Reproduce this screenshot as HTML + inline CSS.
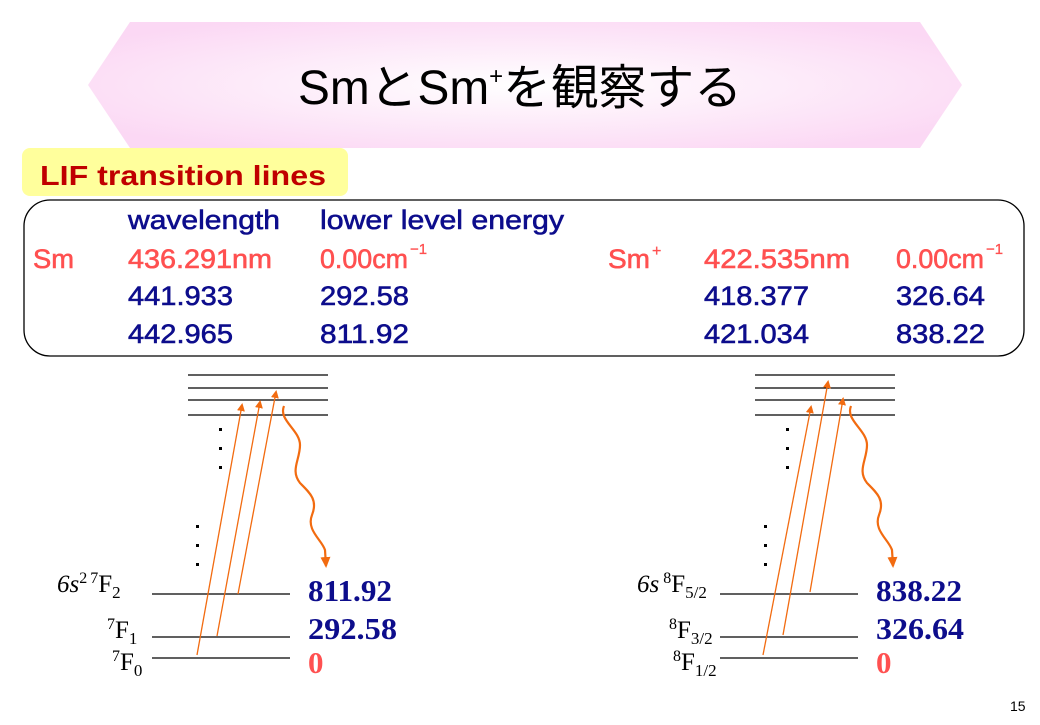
<!DOCTYPE html>
<html><head><meta charset="utf-8"><style>
body{margin:0;width:1040px;height:720px;background:#fff;overflow:hidden;font-family:"Liberation Sans","Noto Sans CJK JP",sans-serif}
</style></head><body>
<svg width="1040" height="720" xmlns="http://www.w3.org/2000/svg">
<defs>
<radialGradient id="g" cx="50%" cy="50%" r="60%"><stop offset="0" stop-color="#fff"/><stop offset="1" stop-color="#fbd8f4"/></radialGradient>
<marker id="ah" markerWidth="8" markerHeight="8" refX="6" refY="4" orient="auto" markerUnits="userSpaceOnUse"><path d="M0,0 L8,4 L0,8 z" fill="#f26b10"/></marker>
<marker id="ah2" markerWidth="12" markerHeight="12" refX="9" refY="6" orient="auto" markerUnits="userSpaceOnUse"><path d="M0,1 L11,6 L0,11 z" fill="#f26b10"/></marker>
</defs>
<polygon points="88,85 130,22 920,22 962,85 920,148 130,148" fill="url(#g)"/>
<text x="298" y="104" font-size="48" textLength="444" lengthAdjust="spacingAndGlyphs" font-family="'Liberation Sans','Noto Sans CJK JP',sans-serif" fill="#000">SmとSm<tspan font-size="24" dy="-20">+</tspan><tspan dy="20">を観察する</tspan></text>
<rect x="22" y="148" width="326" height="48" rx="8" fill="#ffff9c"/>
<text x="40" y="185" font-size="28" font-weight="bold" fill="#c00000" textLength="286" lengthAdjust="spacingAndGlyphs">LIF transition lines</text>
<rect x="24" y="200" width="1000" height="156" rx="26" fill="none" stroke="#000" stroke-width="1.3"/>
<g font-size="27" fill="#0d0d8c" stroke="#0d0d8c" stroke-width="0.6">
<text x="128" y="229" textLength="152" lengthAdjust="spacingAndGlyphs">wavelength</text>
<text x="320" y="229" textLength="244" lengthAdjust="spacingAndGlyphs">lower level energy</text>
<g fill="#ff5050" stroke="#ff5050">
<text x="33" y="268" textLength="41" lengthAdjust="spacingAndGlyphs">Sm</text>
<text x="128" y="268" textLength="144" lengthAdjust="spacingAndGlyphs">436.291nm</text>
<text x="320" y="268" textLength="88" lengthAdjust="spacingAndGlyphs">0.00cm</text><text x="410" y="254" font-size="15" stroke-width="0.3">−1</text>
<text x="608" y="268" textLength="42" lengthAdjust="spacingAndGlyphs">Sm</text><text x="652" y="256" font-size="16" stroke-width="0.3">+</text>
<text x="704" y="268" textLength="146" lengthAdjust="spacingAndGlyphs">422.535nm</text>
<text x="896" y="268" textLength="88" lengthAdjust="spacingAndGlyphs">0.00cm</text><text x="986" y="254" font-size="15" stroke-width="0.3">−1</text>
</g>
<text x="128" y="305" textLength="105" lengthAdjust="spacingAndGlyphs">441.933</text>
<text x="320" y="305" textLength="89" lengthAdjust="spacingAndGlyphs">292.58</text>
<text x="704" y="305" textLength="105" lengthAdjust="spacingAndGlyphs">418.377</text>
<text x="896" y="305" textLength="89" lengthAdjust="spacingAndGlyphs">326.64</text>
<text x="128" y="343" textLength="105" lengthAdjust="spacingAndGlyphs">442.965</text>
<text x="320" y="343" textLength="89" lengthAdjust="spacingAndGlyphs">811.92</text>
<text x="704" y="343" textLength="105" lengthAdjust="spacingAndGlyphs">421.034</text>
<text x="896" y="343" textLength="89" lengthAdjust="spacingAndGlyphs">838.22</text>
</g>
<g stroke="#000" stroke-width="1.2">
<line x1="188" y1="375" x2="328" y2="375"/><line x1="188" y1="388" x2="328" y2="388"/><line x1="188" y1="400" x2="328" y2="400"/><line x1="188" y1="415" x2="328" y2="415"/>
<line x1="152" y1="594" x2="290" y2="594"/><line x1="152" y1="637" x2="290" y2="637"/><line x1="152" y1="658" x2="290" y2="658"/>
<line x1="755" y1="375" x2="895" y2="375"/><line x1="755" y1="388" x2="895" y2="388"/><line x1="755" y1="400" x2="895" y2="400"/><line x1="755" y1="415" x2="895" y2="415"/>
<line x1="720" y1="594" x2="858" y2="594"/><line x1="720" y1="637" x2="858" y2="637"/><line x1="720" y1="658" x2="858" y2="658"/>
</g>
<g fill="#000">
<rect x="219" y="428" width="3" height="3"/><rect x="219" y="447" width="3" height="3"/><rect x="219" y="466" width="3" height="3"/>
<rect x="196" y="525" width="3" height="3"/><rect x="196" y="544" width="3" height="3"/><rect x="196" y="563" width="3" height="3"/>
<rect x="786" y="428" width="3" height="3"/><rect x="786" y="447" width="3" height="3"/><rect x="786" y="466" width="3" height="3"/>
<rect x="764" y="525" width="3" height="3"/><rect x="764" y="544" width="3" height="3"/><rect x="764" y="563" width="3" height="3"/>
</g>
<g stroke="#f26b10" stroke-width="1.3" fill="none">
<line x1="197" y1="655" x2="242" y2="405" marker-end="url(#ah)"/>
<line x1="217" y1="636" x2="260" y2="402" marker-end="url(#ah)"/>
<line x1="238" y1="594" x2="276" y2="392" marker-end="url(#ah)"/>
<line x1="763" y1="655" x2="811" y2="407" marker-end="url(#ah)"/>
<line x1="783" y1="635" x2="828" y2="382" marker-end="url(#ah)"/>
<line x1="810" y1="592" x2="843" y2="399" marker-end="url(#ah)"/>
<path d="M284,406 C278,420 300,430 300,445 C300,460 290,470 300,483 C310,493 318,500 312,515 C306,530 322,540 325,550 L326,566" stroke-width="2.2" marker-end="url(#ah2)"/>
<path d="M851,406 C845,420 867,430 867,445 C867,460 857,470 867,483 C877,493 885,500 879,515 C873,530 889,540 892,550 L893,566" stroke-width="2.2" marker-end="url(#ah2)"/>
</g>
<g font-family="'Liberation Serif',serif" font-size="25" fill="#000">
<text x="57" y="592"><tspan font-style="italic">6s</tspan><tspan font-size="16" dy="-9">2</tspan><tspan font-size="16" dx="3">7</tspan><tspan dy="9">F</tspan><tspan font-size="17" dy="6">2</tspan></text>
<text x="107" y="638"><tspan font-size="16" dy="-9">7</tspan><tspan dy="9">F</tspan><tspan font-size="17" dy="6">1</tspan></text>
<text x="112" y="670"><tspan font-size="16" dy="-9">7</tspan><tspan dy="9">F</tspan><tspan font-size="17" dy="6">0</tspan></text>
<text x="637" y="592"><tspan font-style="italic">6s</tspan><tspan font-size="16" dx="4" dy="-9">8</tspan><tspan dy="9">F</tspan><tspan font-size="17" dy="6">5/2</tspan></text>
<text x="669" y="638"><tspan font-size="16" dy="-9">8</tspan><tspan dy="9">F</tspan><tspan font-size="17" dy="6">3/2</tspan></text>
<text x="673" y="670"><tspan font-size="16" dy="-9">8</tspan><tspan dy="9">F</tspan><tspan font-size="17" dy="6">1/2</tspan></text>
</g>
<g font-family="'Liberation Serif',serif" font-size="31" font-weight="bold" fill="#0d0d8c">
<text x="308" y="601" textLength="84" lengthAdjust="spacingAndGlyphs">811.92</text>
<text x="308" y="639" textLength="89" lengthAdjust="spacingAndGlyphs">292.58</text>
<text x="308" y="673" fill="#ff5050">0</text>
<text x="876" y="601" textLength="86" lengthAdjust="spacingAndGlyphs">838.22</text>
<text x="876" y="639" textLength="88" lengthAdjust="spacingAndGlyphs">326.64</text>
<text x="876" y="673" fill="#ff5050">0</text>
</g>
<text x="1010" y="711" font-size="14" fill="#000">15</text>
</svg>
</body></html>
